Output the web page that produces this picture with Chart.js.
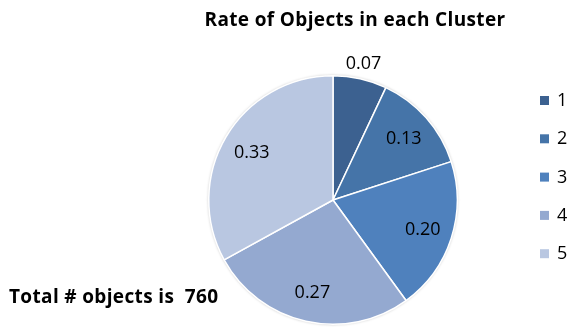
<!DOCTYPE html>
<html>
<head>
<meta charset="utf-8">
<script src="https://cdn.jsdelivr.net/npm/chart.js@4.4.1/dist/chart.umd.min.js"></script>
<style>
  html, body { margin: 0; padding: 0; background: #fff; }
  #wrap { width: 571px; height: 327px; position: relative; }
</style>
</head>
<body>
<div id="wrap"><canvas id="pie" width="571" height="327"></canvas></div>
<script>
// DATA
const clusters = ["1", "2", "3", "4", "5"];
const rates = [0.07, 0.13, 0.20, 0.27, 0.33];
const sliceColors = ["#3C6190", "#4574A8", "#4F81BD", "#94A9D0", "#B9C7E1"];
const chartTitle = "Rate of Objects in each Cluster";
const totalNote = "Total # objects is  760";

const FONT = "'Open Sans', 'Liberation Sans', sans-serif";

// soft shadow under the pie
const pieShadow = {
  id: "pieShadow",
  beforeDatasetsDraw(chart) {
    const arc = chart.getDatasetMeta(0).data[0];
    if (!arc) return;
    const ctx = chart.ctx;
    ctx.save();
    ctx.beginPath();
    ctx.arc(arc.x, arc.y, arc.outerRadius, 0, Math.PI * 2);
    ctx.fillStyle = "#fff";
    ctx.shadowColor = "rgba(0,0,0,0.35)";
    ctx.shadowBlur = 3;
    ctx.fill();
    ctx.restore();
  },
};

// title, labels, legend, note
const decorations = {
  id: "decorations",
  afterDraw(chart) {
    const ctx = chart.ctx;
    const meta = chart.getDatasetMeta(0);
    ctx.save();
    ctx.fillStyle = "#000";
    ctx.textBaseline = "middle";

    // title
    ctx.font = "bold 19px " + FONT;
    ctx.letterSpacing = "0.35px";
    ctx.textAlign = "center";
    ctx.fillText(chartTitle, 355, 21);

    // value labels
    ctx.font = "18px " + FONT;
    ctx.letterSpacing = "0px";
    meta.data.forEach((arc, i) => {
      const mid = (arc.startAngle + arc.endAngle) / 2;
      const dist = i === 0 ? arc.outerRadius + 16 : arc.outerRadius * 0.76;
      const x = arc.x + Math.cos(mid) * dist;
      const y = arc.y + Math.sin(mid) * dist;
      ctx.fillText(rates[i].toFixed(2), x, y + 1);
    });

    // legend
    ctx.textAlign = "left";
    clusters.forEach((c, i) => {
      const y = 100 + i * 38.3;
      ctx.fillStyle = sliceColors[i];
      ctx.fillRect(540, y - 4, 9, 9);
      ctx.fillStyle = "#000";
      ctx.fillText(c, 557, y + 1);
    });

    // note
    ctx.font = "bold 19px " + FONT;
    ctx.letterSpacing = "0.35px";
    ctx.fillText(totalNote, 9, 298);
    ctx.restore();
  },
};

new Chart(document.getElementById("pie").getContext("2d"), {
  type: "pie",
  data: {
    labels: clusters,
    datasets: [
      {
        data: rates,
        backgroundColor: sliceColors,
        borderColor: "#fff",
        borderWidth: 1.5,
      },
    ],
  },
  options: {
    responsive: false,
    animation: false,
    layout: { padding: { left: 208, right: 113, top: 75, bottom: 2 } },
    plugins: {
      legend: { display: false },
      title: { display: false },
      tooltip: { enabled: false },
    },
  },
  plugins: [pieShadow, decorations],
});
</script>
</body>
</html>
